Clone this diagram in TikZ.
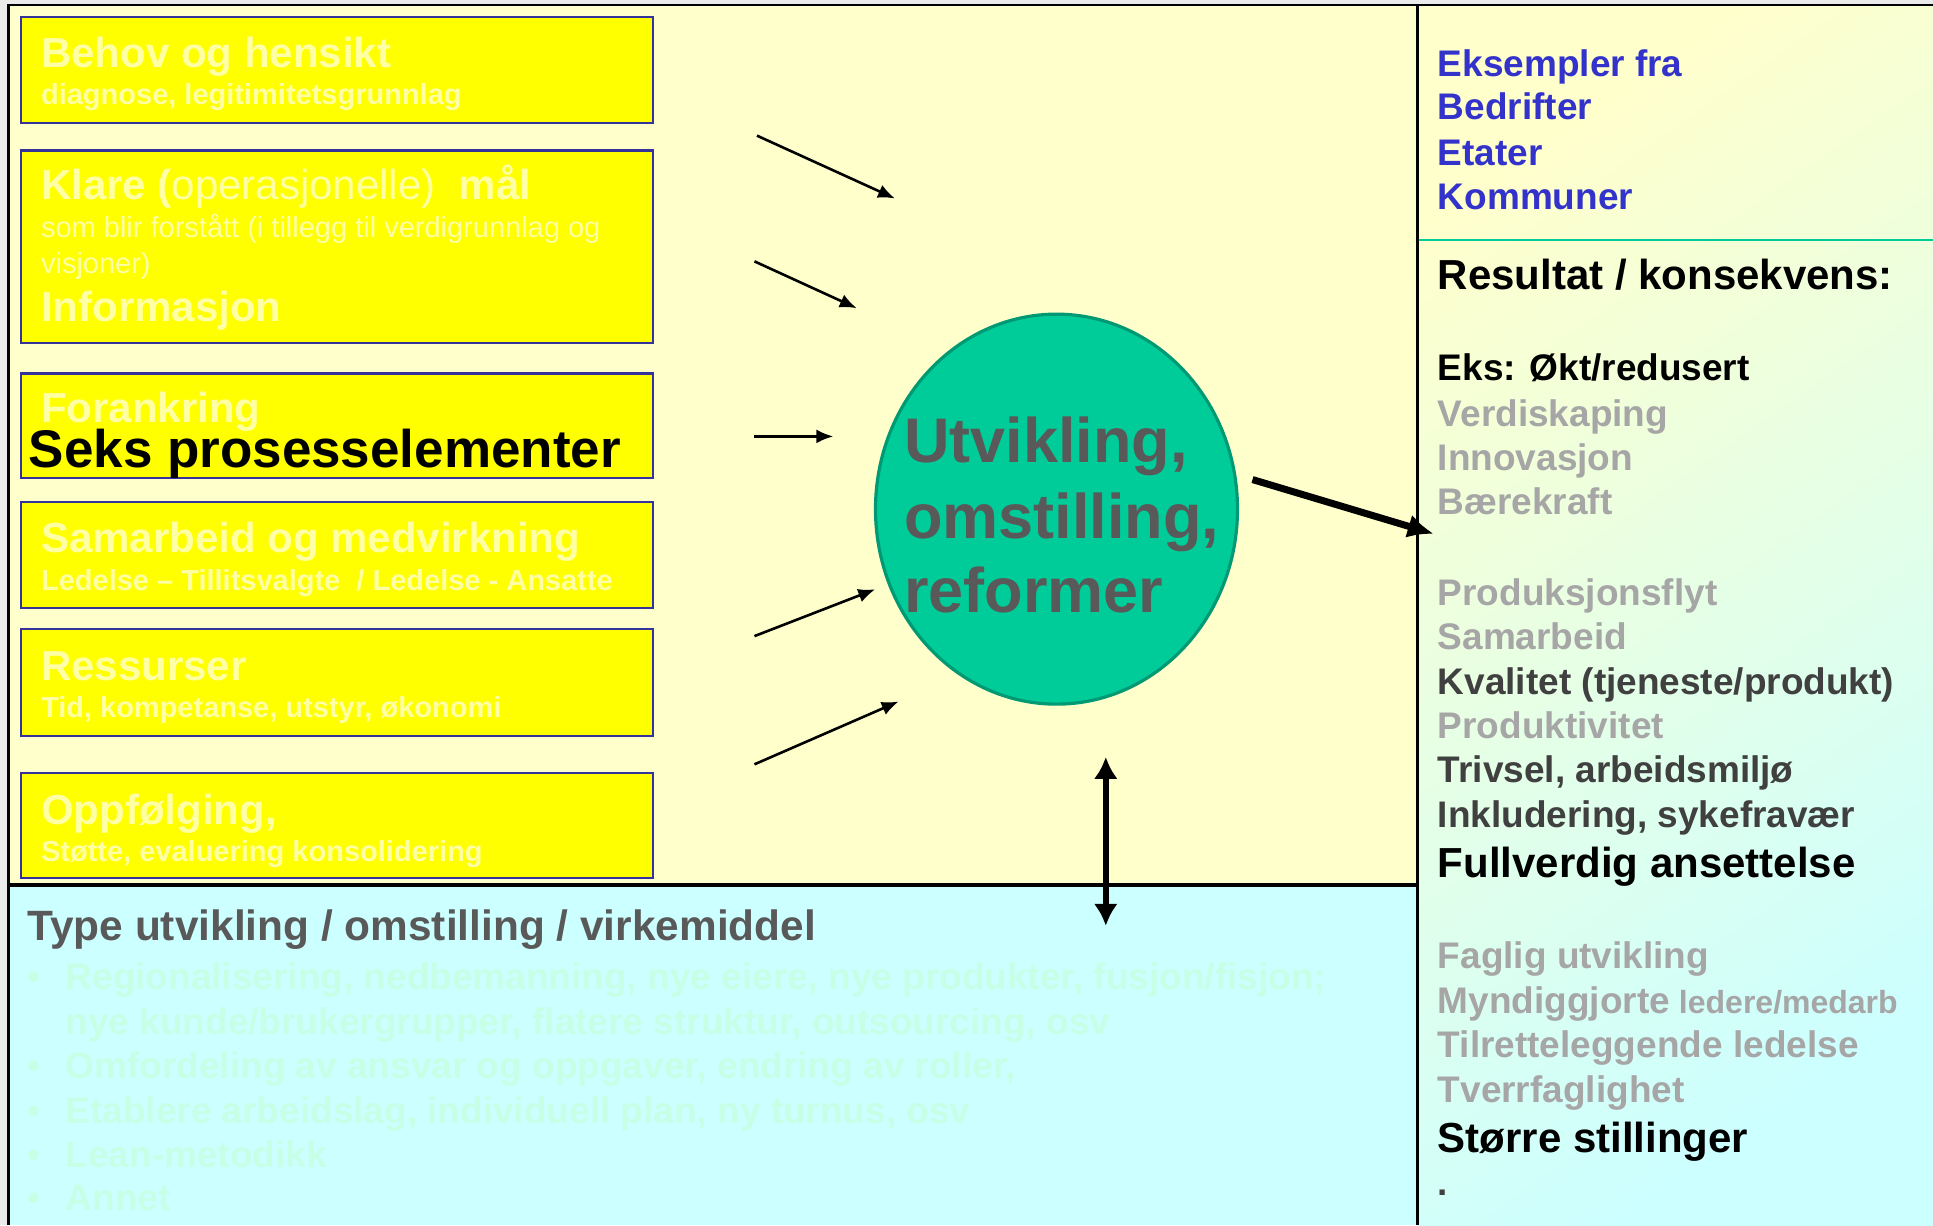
\documentclass[tikz,border=0pt]{standalone}
\usepackage{fontspec}
\setmainfont{Liberation Sans}
\usepackage{xcolor}
\usepackage{tikz}
\usetikzlibrary{positioning,arrows.meta,shapes.geometric}
\definecolor{framegray}{HTML}{EAEAEA}
\definecolor{paleyellow}{HTML}{FFFFCC}
\definecolor{palecyan}{HTML}{CCFFFF}
\definecolor{boxyellow}{HTML}{FFFF00}
\definecolor{boxblue}{HTML}{333399}
\definecolor{ghosttext}{HTML}{FFFFA6}
\definecolor{ghostmint}{HTML}{C6FFE6}
\definecolor{circlefill}{HTML}{00CC99}
\definecolor{circleline}{HTML}{009974}
\definecolor{darktext}{HTML}{595959}
\definecolor{linkblue}{HTML}{3333CC}
\definecolor{softgray}{HTML}{A6A6A6}
\definecolor{midgray}{HTML}{404040}
\definecolor{rulegreen}{HTML}{00CC99}

\begin{document}
\begin{tikzpicture}[x=0.6164pt,y=-0.6164pt,
  procbox/.style={draw=boxblue,fill=boxyellow,line width=1.1pt},
  boxhead/.style={anchor=base west,inner sep=0pt,text=ghosttext,
    font=\fontsize{21}{25}\selectfont\bfseries},
  boxsub/.style={anchor=base west,inner sep=0pt,text=ghosttext,
    font=\fontsize{14.5}{17}\selectfont\bfseries},
  boxsubmd/.style={boxsub,font=\fontsize{14.5}{17}\selectfont},
  coretext/.style={anchor=base west,inner sep=0pt,text=darktext,
    font=\fontsize{31.5}{38}\selectfont\bfseries},
  reslist/.style={anchor=base west,inner sep=0pt,
    font=\fontsize{18.5}{22}\selectfont\bfseries},
  resblue/.style={reslist,text=linkblue},
  resgray/.style={reslist,text=softgray},
  resdark/.style={reslist,text=midgray},
  resblack/.style={reslist,text=black},
  resbig/.style={reslist,text=black,font=\fontsize{21}{25}\selectfont\bfseries},
  ghostitem/.style={anchor=base west,inner sep=0pt,text=ghostmint,
    font=\fontsize{18.5}{22}\selectfont\bfseries},
  inarrow/.style={-{Latex[length=8.5pt,width=7pt]},line width=1.3pt},
  outarrow/.style={-{Latex[length=13pt,width=12pt]},line width=3.5pt},
  linkarrow/.style={{Latex[length=11pt,width=12pt]}-{Latex[length=11pt,width=12pt]},line width=3pt}]

\useasboundingbox (0,0) rectangle (1568,994);

% panels
\fill[framegray] (0,0) rectangle (1568,994);
\fill[paleyellow] (7,4) rectangle (1150,718);
\fill[palecyan] (7,718) rectangle (1150,994);
\shade[top color=paleyellow,bottom color=palecyan,shading angle=35]
  (1150,4) rectangle (1568,994);
\draw[rulegreen,line width=1pt] (1150,195) -- (1568,195);
\draw[line width=1.4pt] (7,994) -- (7,4) -- (1568,4);
\draw[line width=1.4pt] (1150,4) -- (1150,994);
\draw[line width=2pt] (7,718) -- (1150,718);

% six process boxes
\foreach \ya/\yb in {14/100,122/278,303/388,407/493,510/597,627/712}
  \draw[procbox] (17,\ya) rectangle (530,\yb);

\node[boxhead] (need) at (33,55) {Behov og hensikt};
\node[boxsub] (needsub) at (33,85) {diagnose, legitimitetsgrunnlag};
\node[boxhead] (goal) at (33,162) {Klare (\textmd{operasjonelle)}\ \ mål};
\node[boxsubmd] (goalsub) at (33,193) {som blir forstått (i tillegg til verdigrunnlag og};
\node[boxsubmd] (goalsubb) at (33,222) {visjoner)};
\node[boxhead] (info) at (33,261) {Informasjon};
\node[boxhead] (anchoring) at (33,343) {Forankring};
\node[anchor=base west,inner sep=0pt,font=\fontsize{26.5}{30}\selectfont\bfseries]
  (title) at (23,379) {Seks prosesselementer};
\node[boxhead] (coop) at (33,448) {Samarbeid og medvirkning};
\node[boxsub] (coopsub) at (33,479) {Ledelse – Tillitsvalgte\ \ / Ledelse - Ansatte};
\node[boxhead] (means) at (33,552) {Ressurser};
\node[boxsub] (meanssub) at (33,582) {Tid, kompetanse, utstyr, økonomi};
\node[boxhead] (follow) at (33,669) {Oppfølging,};
\node[boxsub] (followsub) at (33,699) {Støtte, evaluering konsolidering};

% centre
\node[ellipse,draw=circleline,fill=circlefill,line width=1.6pt,inner sep=0pt,
      minimum width=181pt,minimum height=195pt] (core) at (857,413) {};
\foreach \y/\txt [count=\k] in {375/{Utvikling,},437/{omstilling,},497/reformer}
  \node[coretext] (core\k) at (733,\y) {\txt};

% arrows into the centre
\foreach \k/\ax/\ay/\bx/\by in {1/614/110/726/161,2/612/212/695/250,3/612/354/676/354,
                                4/612/516/710/478,5/612/620/729/569}{
  \coordinate (feed\k) at (\ax,\ay);
  \coordinate (push\k) at (\bx,\by);
  \draw[inarrow] (feed\k) -- (push\k);
}
\coordinate (outfrom) at (1016,389);
\coordinate (outto) at (1163,433);
\draw[outarrow] (outfrom) -- (outto);
\coordinate (linkup) at (897,614);
\coordinate (linkdown) at (897,751);
\draw[linkarrow] (linkup) -- (linkdown);

% right column
\foreach \y/\sty/\txt [count=\k] in {
    62/resblue/{Eksempler fra},97/resblue/Bedrifter,134/resblue/Etater,170/resblue/Kommuner,
    235/resbig/{Resultat / konsekvens:},
    309/resblack/{Eks: Økt/redusert},346/resgray/Verdiskaping,382/resgray/Innovasjon,
    417/resgray/Bærekraft,
    491/resgray/Produksjonsflyt,527/resgray/Samarbeid,
    563/resdark/{Kvalitet (tjeneste/produkt)},599/resgray/Produktivitet,
    635/resdark/{Trivsel, arbeidsmiljø},671/resdark/{Inkludering, sykefravær},
    712/resbig/{Fullverdig ansettelse},
    786/resgray/{Faglig utvikling},
    822/resgray/{Myndiggjorte{\fontsize{16}{19}\selectfont\ ledere/medarb}},
    858/resgray/{Tilretteleggende ledelse},894/resgray/Tverrfaglighet,
    935/resbig/{Større stillinger},970/resdark/{.}}
  \node[\sty] (out\k) at (1166,\y) {\txt};

% bottom panel
\node[anchor=base west,inner sep=0pt,text=darktext,
      font=\fontsize{21.2}{25}\selectfont\bfseries]
      (kind) at (22,763) {Type utvikling / omstilling / virkemiddel};
\foreach \y/\txt [count=\k] in {
    803/{Regionalisering, nedbemanning, nye eiere, nye produkter, fusjon/fisjon;},
    839/{nye kunde/brukergrupper, flatere struktur, outsourcing, osv},
    875/{Omfordeling av ansvar og oppgaver, endring av roller,},
    911/{Etablere arbeidslag, individuell plan, ny turnus, osv},
    947/{Lean-metodikk},982/{Annet}}
  \node[ghostitem] (kind\k) at (53,\y) {\txt};
\foreach \y in {803,875,911,947,982}
  \node[ghostitem] (dot\y) at (22,\y) {•};

\end{tikzpicture}
\end{document}
